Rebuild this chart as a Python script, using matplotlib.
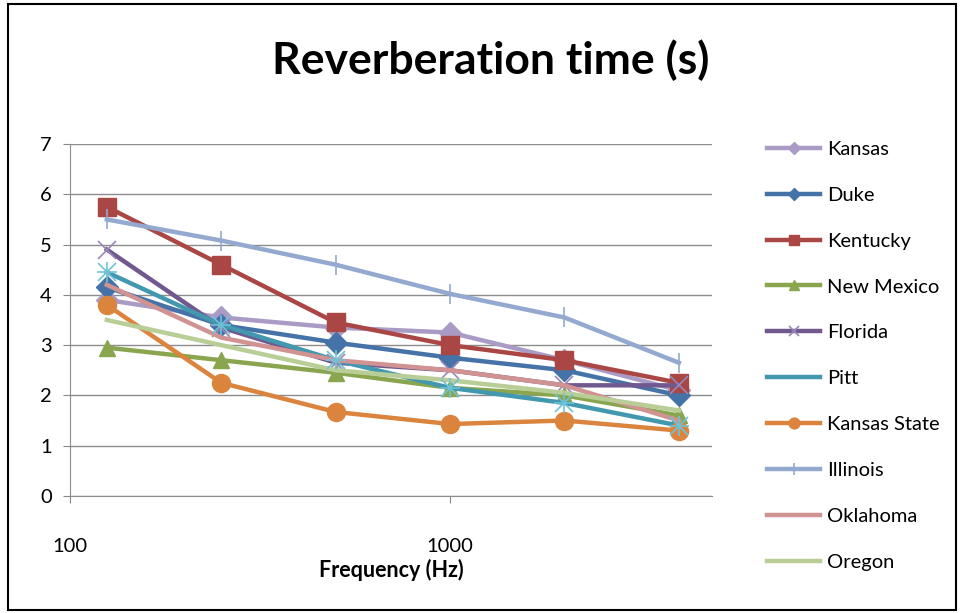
import matplotlib.pyplot as plt
from matplotlib.patches import Rectangle

plt.rcParams['font.family'] = ['Lato', 'DejaVu Sans']

# Datos
freqs = [125, 250, 500, 1000, 2000, 4000]
kansas = [3.9, 3.55, 3.35, 3.25, 2.7, 2.1]
duke = [4.15, 3.4, 3.05, 2.75, 2.5, 2.0]
kentucky = [5.75, 4.6, 3.45, 3.0, 2.7, 2.25]
new_mexico = [2.95, 2.7, 2.45, 2.15, 2.0, 1.6]
florida = [4.9, 3.35, 2.65, 2.5, 2.2, 2.2]
pitt = [4.45, 3.4, 2.7, 2.15, 1.85, 1.4]
kansas_state = [3.8, 2.25, 1.67, 1.43, 1.5, 1.3]
illinois = [5.5, 5.08, 4.6, 4.02, 3.55, 2.65]
oklahoma = [4.2, 3.15, 2.7, 2.5, 2.2, 1.5]
oregon = [3.5, 3.0, 2.5, 2.3, 2.05, 1.7]

series = [
    ('Kansas', kansas, '#A99BC6', 'D', 11),
    ('Duke', duke, '#4572A7', 'D', 11),
    ('Kentucky', kentucky, '#AA4643', 's', 13),
    ('New Mexico', new_mexico, '#89A54E', '^', 12),
    ('Florida', florida, '#71588F', 'x', 13),
    ('Pitt', pitt, '#4198AF', '*', 0),
    ('Kansas State', kansas_state, '#DB843D', 'o', 13),
    ('Illinois', illinois, '#93A9CF', '|', 14),
    ('Oklahoma', oklahoma, '#D19392', None, 0),
    ('Oregon', oregon, '#B9CD96', None, 0),
]

fig = plt.figure(figsize=(9.63, 6.13), dpi=100)
ax = fig.add_axes([0.0727, 0.191, 0.667, 0.574])

for nombre, vals, color, marker, ms in series:
    if nombre == 'Pitt':
        ax.plot(freqs, vals, color=color, lw=3.2, label=nombre, zorder=3)
        ax.plot(freqs, vals, ls='none', marker='x', ms=13, mew=1.2, color='#6FC3D8', zorder=4)
        ax.plot(freqs, vals, ls='none', marker='+', ms=15, mew=1.2, color='#6FC3D8', zorder=4)
        continue
    mew = 1.2 if marker in ('x', '|') else 1
    mec = color
    if marker == 'x':
        mec = '#9A86B8'
    ax.plot(freqs, vals, color=color, lw=3.2, marker=marker, ms=ms, mew=mew,
            mec=mec, label=nombre, zorder=3)

ax.set_xscale('log')
ax.set_xlim(100, 4900)
ax.set_ylim(0, 7)
ax.set_yticks(range(0, 8))
ax.set_xticks([100, 1000])
ax.set_xticklabels(['100', '1000'])
ax.minorticks_off()
ax.tick_params(axis='x', length=5, color='#888888', pad=25, labelsize=14.5)
ax.tick_params(axis='y', length=5, color='#888888', labelsize=14.5, pad=8)
ax.yaxis.grid(True, color='#8c8c8c', lw=1)
ax.set_axisbelow(True)
for lado in ['top', 'right']:
    ax.spines[lado].set_visible(False)
for lado in ['left', 'bottom']:
    ax.spines[lado].set_color('#8c8c8c')

ax.set_xlabel('Frequency (Hz)', fontsize=15.5, fontweight='bold', labelpad=3)
fig.text(0.51, 0.902, 'Reverberation time (s)', ha='center', va='center',
         fontsize=32, fontweight='bold')

ax.legend(loc='upper left', bbox_to_anchor=(0.778, 0.80), bbox_transform=fig.transFigure,
          frameon=False, fontsize=14.5, handlelength=2.6, labelspacing=1.43,
          handletextpad=0.35, markerscale=0.6)

fig.patches.append(Rectangle((0.008, 0.005), 0.985, 0.988, transform=fig.transFigure,
                             fill=False, edgecolor='black', lw=1.5))

fig.savefig('out.png', dpi=100)
